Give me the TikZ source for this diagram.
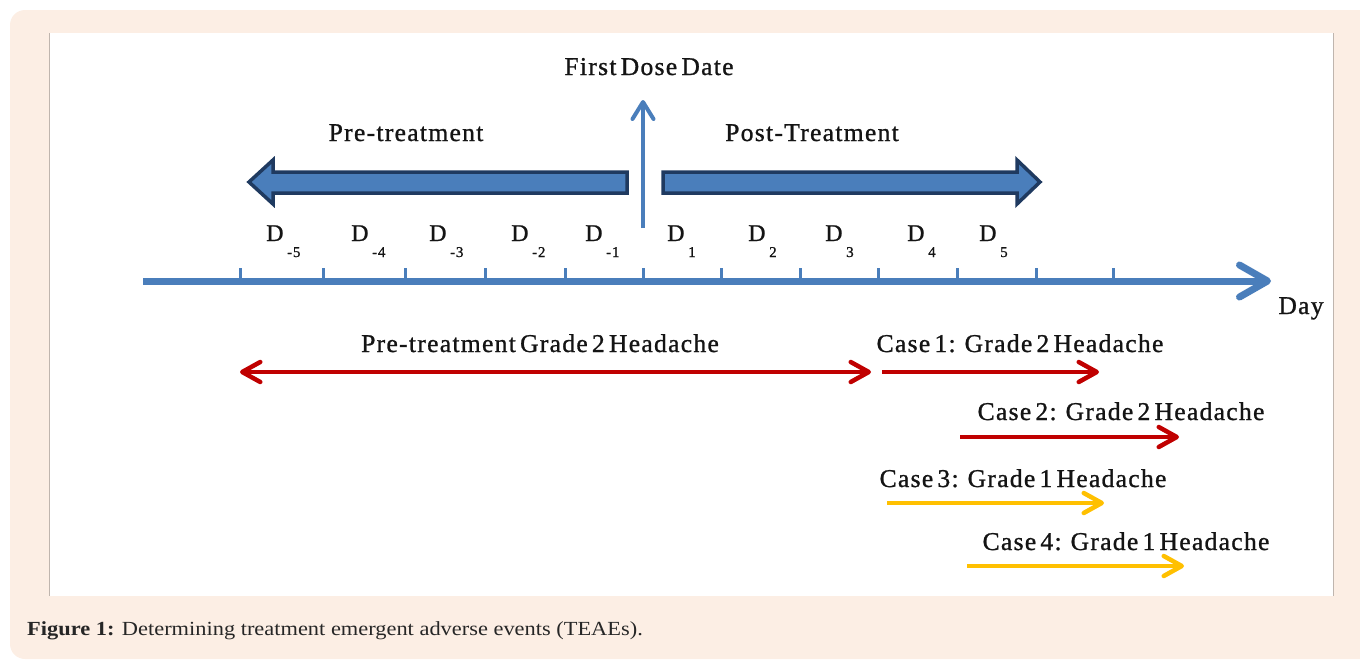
\documentclass[tikz,border=0pt]{standalone}
\usepackage{fontspec}
\setmainfont{Liberation Serif}[LetterSpace=5,WordSpace=0.55,FakeBold=1]
\newfontfamily\capfont{Liberation Serif}[FakeStretch=1.12]
\usetikzlibrary{arrows.meta}
\definecolor{peach}{HTML}{FCEEE4}
\definecolor{panelgray}{HTML}{BFB5AE}
\definecolor{tblue}{HTML}{4A7EBB}
\definecolor{tnavy}{HTML}{1F3A60}
\definecolor{tred}{HTML}{C00000}
\definecolor{tgold}{HTML}{FFC000}
\definecolor{ttext}{HTML}{141414}
\definecolor{captext}{HTML}{262626}
\tikzset{
  lbl/.style={inner sep=0pt, anchor=base, text=ttext, font=\fontsize{25.6}{29}\selectfont},
  dlbl/.style={inner sep=0pt, anchor=base west, text=ttext, font=\fontsize{24}{28}\selectfont},
  sublbl/.style={inner sep=0pt, anchor=base west, text=ttext, font=\fontsize{15}{17}\selectfont},
  axisline/.style={draw=tblue, line width=7pt, -{Straight Barb[length=28pt,width=32pt,round]}},
  tickmark/.style={draw=tblue, line width=3pt},
  doseline/.style={draw=tblue, line width=4pt, -{Straight Barb[length=17pt,width=21pt,round]}},
  blockarrow/.style={fill=tblue, draw=tnavy, line width=3.5pt, line join=miter},
  redarr/.style={draw=tred, line width=4.5pt, -{Straight Barb[length=18pt,width=20pt,round]}},
  redboth/.style={draw=tred, line width=4.5pt, {Straight Barb[length=18pt,width=20pt,round]}-{Straight Barb[length=18pt,width=20pt,round]}},
  goldarr/.style={draw=tgold, line width=4.5pt, -{Straight Barb[length=18pt,width=20pt,round]}},
}
\begin{document}
\begin{tikzpicture}[x=1pt,y=-1pt]
\useasboundingbox (0,0) rectangle (1360,659);
\clip (0,0) rectangle (1360,659);
% background
\fill[peach, rounded corners=15pt] (10,10) rectangle (1390,659);
\fill[white] (49,33) rectangle (1333,596);
\draw[panelgray, line width=1pt] (49,33) -- (49,596);
\draw[panelgray, line width=1pt] (1333,33) -- (1333,596);

% time axis
\coordinate (axL) at (143,281);
\coordinate (axR) at (1271,281);
\draw[axisline] (axL) -- (axR);
\foreach \t in {240,323,405,485,565,643,721,800,878,957,1036,1113}{
  \draw[tickmark] (\t,268) -- (\t,281);
}

% first dose arrow
\coordinate (doseB) at (643,228);
\coordinate (doseT) at (643,100);
\draw[doseline] (doseB) -- (doseT);
\node[lbl] (fdd) at (649,75) {First Dose Date};

% block arrows
\draw[blockarrow] (627,172) -- (273,172) -- (273,160) -- (249,182) -- (273,204) -- (273,193) -- (627,193) -- cycle;
\draw[blockarrow] (663,172) -- (1017,172) -- (1017,160) -- (1040,182) -- (1017,204) -- (1017,193) -- (663,193) -- cycle;
\node[lbl] (pre) at (406,141) {Pre-treatment};
\node[lbl] (post) at (812,141) {Post-Treatment};

% day labels
\foreach \x/\s [count=\i] in {266/-5,351/-4,429/-3,511/-2,585/-1,667/1,748/2,825/3,907/4,979/5}{
  \node[dlbl] (d\i) at (\x,241) {D};
  \node[sublbl] (s\i) at (\x+21,257) {\s};
}
\node[lbl] (day) at (1301,314) {Day};

% events
\node[lbl] (ptlbl) at (540,352) {Pre-treatment Grade 2 Headache};
\coordinate (ptL) at (240,372);
\coordinate (ptR) at (871,372);
\draw[redboth] (ptL) -- (ptR);

\node[lbl] (c1) at (1020,352) {Case 1:\hspace{9pt}Grade 2 Headache};
\coordinate (c1s) at (882,372);
\coordinate (c1e) at (1099,372);
\draw[redarr] (c1s) -- (c1e);

\node[lbl] (c2) at (1121,420) {Case 2:\hspace{9pt}Grade 2 Headache};
\coordinate (c2s) at (960,437);
\coordinate (c2e) at (1179,437);
\draw[redarr] (c2s) -- (c2e);

\node[lbl] (c3) at (1023,487) {Case 3:\hspace{9pt}Grade 1 Headache};
\coordinate (c3s) at (887,503);
\coordinate (c3e) at (1104,503);
\draw[goldarr] (c3s) -- (c3e);

\node[lbl] (c4) at (1126,550) {Case 4:\hspace{9pt}Grade 1 Headache};
\coordinate (c4s) at (967,566);
\coordinate (c4e) at (1184,566);
\draw[goldarr] (c4s) -- (c4e);

% caption
\node[inner sep=0pt, anchor=base west, text=captext, font=\capfont\fontsize{20}{24}\selectfont] (cap) at (27,635) {\textbf{Figure 1:} Determining treatment emergent adverse events (TEAEs).};
\end{tikzpicture}
\end{document}
